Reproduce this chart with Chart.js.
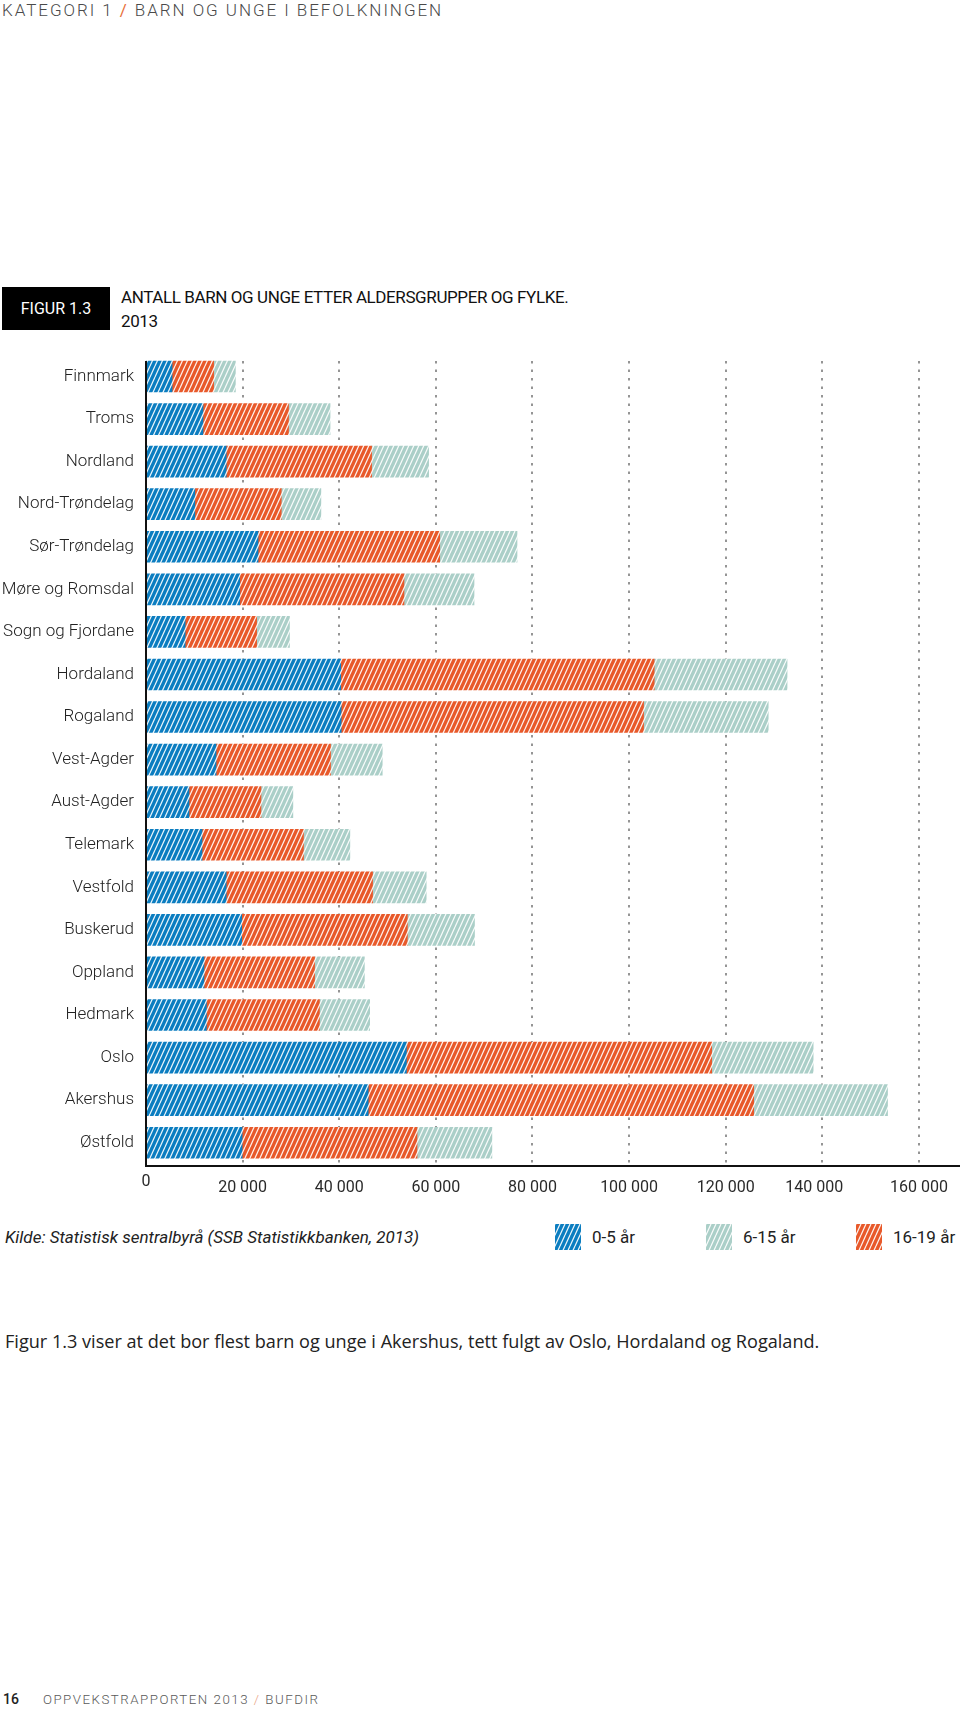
<!DOCTYPE html>
<html>
<head>
<meta charset="utf-8">
<script src="https://cdn.jsdelivr.net/npm/chart.js@4.4.0/dist/chart.umd.min.js"></script>
<style>
html,body{margin:0;padding:0;background:#fff;}
body{width:960px;height:1711px;position:relative;overflow:hidden;font-family:Roboto,"Open Sans",sans-serif;}
#hdr{position:absolute;left:2px;top:0px;font-size:17px;letter-spacing:1.95px;color:#4a4a4a;font-weight:300;line-height:21px;white-space:nowrap;}
#hdr .sl{color:#e8703a;font-weight:400;}
#figbox{position:absolute;left:2px;top:287px;width:108px;height:43px;background:#000;color:#fff;font-size:16px;line-height:43px;text-align:center;}
#title{position:absolute;left:121px;top:285px;font-size:17px;line-height:24px;color:#111;letter-spacing:-0.4px;white-space:nowrap;}
#chartwrap{position:absolute;left:0;top:333px;width:960px;height:887px;}
#kilde{position:absolute;left:5px;top:1226px;font-style:italic;font-size:17px;line-height:22px;color:#222;white-space:nowrap;}
.lg{position:absolute;top:1224px;height:26px;display:flex;align-items:center;white-space:nowrap;font-size:17px;color:#222;}
.lg canvas{width:26px;height:26px;margin-right:11px;}
#para{position:absolute;left:5px;top:1329px;font-family:"Open Sans",sans-serif;font-size:18.1px;line-height:25px;color:#222;white-space:nowrap;}
#foot{position:absolute;left:3px;top:1690px;font-size:13.3px;line-height:18px;white-space:nowrap;}
#foot b{color:#222;font-weight:500;font-size:14px;margin-right:24px;}
#foot span.t{color:#5a5a5a;letter-spacing:1.5px;font-weight:300;}
#foot span.s{color:#e9a080;}
</style>
</head>
<body>
<div id="hdr">KATEGORI 1 <span class="sl">/</span> BARN OG UNGE I BEFOLKNINGEN</div>
<div id="figbox">FIGUR 1.3</div>
<div id="title">ANTALL BARN OG UNGE ETTER ALDERSGRUPPER OG FYLKE.<br>2013</div>
<div id="chartwrap"><canvas id="c" width="960" height="887" style="width:960px;height:887px"></canvas></div>
<div id="kilde">Kilde: Statistisk sentralbyrå (SSB Statistikkbanken, 2013)</div>
<div class="lg" style="left:555px"><canvas id="sw0" width="26" height="26"></canvas><span>0-5 år</span></div>
<div class="lg" style="left:706px"><canvas id="sw1" width="26" height="26"></canvas><span>6-15 år</span></div>
<div class="lg" style="left:856px"><canvas id="sw2" width="26" height="26"></canvas><span>16-19 år</span></div>
<div id="para">Figur 1.3 viser at det bor flest barn og unge i Akershus, tett fulgt av Oslo, Hordaland og Rogaland.</div>
<div id="foot"><b>16</b><span class="t">OPPVEKSTRAPPORTEN 2013 <span class="s">/</span> BUFDIR</span></div>
<script>
// ---- data ----
const categories = ["Finnmark","Troms","Nordland","Nord-Trøndelag","Sør-Trøndelag","Møre og Romsdal","Sogn og Fjordane","Hordaland","Rogaland","Vest-Agder","Aust-Agder","Telemark","Vestfold","Buskerud","Oppland","Hedmark","Oslo","Akershus","Østfold"];
// first (blue) segment
const blueSeg   = [5400, 11800, 16600, 10100, 23200, 19400, 8100, 40300, 40400, 14500, 8900, 11600, 16600, 19800, 12000, 12500, 53900, 46000, 19900];
// middle (orange) segment
const orangeSeg = [8600, 17700, 30100, 17900, 37600, 34000, 14800, 64900, 62600, 23700, 14900, 21000, 30300, 34300, 22900, 23400, 63200, 79800, 36200];
// last (teal) segment
const tealSeg   = [4500, 8600, 11800, 8200, 16000, 14500, 6800, 27500, 25800, 10700, 6600, 9600, 11100, 13900, 10300, 10400, 21000, 27700, 15500];
const xTickValues = [0, 20000, 40000, 60000, 80000, 100000, 120000, 140000, 160000];
const xTickLabels = ["0", "20 000", "40 000", "60 000", "80 000", "100 000", "120 000", "140 000", "160 000"];
const seriesNames = {blue: "0-5 år", teal: "6-15 år", orange: "16-19 år"};

const COLORS = {blue: '#0b7dc0', orange: '#e8592a', teal: '#abcfc8'};

function makePattern(targetCtx, color) {
  const w = 5, h = 11;
  const t = document.createElement('canvas');
  t.width = w; t.height = h;
  const g = t.getContext('2d');
  g.fillStyle = color; g.fillRect(0, 0, w, h);
  g.strokeStyle = 'rgba(255,255,255,0.92)';
  g.lineWidth = 1.25;
  g.beginPath();
  for (const dx of [-w, 0, w]) { g.moveTo(dx, h); g.lineTo(dx + w, 0); }
  g.stroke();
  return targetCtx.createPattern(t, 'repeat');
}

const canvas = document.getElementById('c');
const ctx = canvas.getContext('2d');
const patBlue = makePattern(ctx, COLORS.blue);
const patOrange = makePattern(ctx, COLORS.orange);
const patTeal = makePattern(ctx, COLORS.teal);

// legend swatches
[['sw0', COLORS.blue], ['sw1', COLORS.teal], ['sw2', COLORS.orange]].forEach(([id, col]) => {
  const sc = document.getElementById(id).getContext('2d');
  sc.fillStyle = makePattern(sc, col);
  sc.fillRect(0, 0, 26, 26);
});

const BAR_T = 31;

const decorPlugin = {
  id: 'decor',
  beforeDatasetsDraw(chart) {
    const c = chart.ctx, xs = chart.scales.x, ys = chart.scales.y;
    const top = ys.getPixelForValue(0) - BAR_T / 2;
    const bottom = chart.chartArea.bottom + 1;
    c.save();
    c.strokeStyle = '#959595';
    c.lineWidth = 2;
    c.setLineDash([2.5, 6]);
    xTickValues.forEach(v => {
      if (v === 0) return;
      const x = Math.round(xs.getPixelForValue(v));
      c.beginPath(); c.moveTo(x, top); c.lineTo(x, bottom); c.stroke();
    });
    c.restore();
  },
  afterDatasetsDraw(chart) {
    const c = chart.ctx, xs = chart.scales.x, ys = chart.scales.y;
    const x0 = xs.getPixelForValue(0);
    const top = ys.getPixelForValue(0) - BAR_T / 2;
    const bottom = chart.chartArea.bottom + 2;
    c.save();
    c.fillStyle = '#111';
    c.fillRect(x0 - 1, top, 2, bottom - top + 1);
    c.fillRect(x0 - 1, bottom - 1, chart.chartArea.right - x0 + 1, 2);
    c.restore();
  },
  afterDraw(chart) {
    const c = chart.ctx, xs = chart.scales.x;
    const base = chart.chartArea.bottom;
    c.save();
    c.fillStyle = '#2a2a2a';
    c.font = '16px Roboto, sans-serif';
    c.textAlign = 'center';
    c.textBaseline = 'middle';
    xTickValues.forEach((v, i) => {
      let x = xs.getPixelForValue(v);
      if (v === 140000) x -= 8;
      const y = base + (v === 0 ? 18 : 24);
      c.fillText(xTickLabels[i], x, y);
    });
    c.restore();
  }
};

new Chart(ctx, {
  type: 'bar',
  data: {
    labels: categories,
    datasets: [
      {label: seriesNames.blue, data: blueSeg, backgroundColor: patBlue, stack: 's'},
      {label: seriesNames.orange, data: orangeSeg, backgroundColor: patOrange, stack: 's'},
      {label: seriesNames.teal, data: tealSeg, backgroundColor: patTeal, stack: 's'}
    ]
  },
  options: {
    indexAxis: 'y',
    responsive: false,
    animation: false,
    events: [],
    devicePixelRatio: 1,
    layout: {padding: {top: 7, left: 0, right: 0, bottom: 0}},
    datasets: {bar: {barThickness: BAR_T, borderWidth: 0}},
    plugins: {legend: {display: false}, tooltip: {enabled: false}},
    scales: {
      x: {
        type: 'linear', stacked: true, min: 0, max: 168500,
        grid: {display: false, drawTicks: false},
        border: {display: false},
        ticks: {display: false},
        afterFit: s => { s.height = 56; }
      },
      y: {
        stacked: true,
        grid: {display: false, drawTicks: false},
        border: {display: false},
        ticks: {color: '#222', padding: 12, font: {family: 'Roboto', size: 17, weight: 300}},
        afterFit: s => { s.width = 146; }
      }
    }
  },
  plugins: [decorPlugin]
});
</script>
</body>
</html>
